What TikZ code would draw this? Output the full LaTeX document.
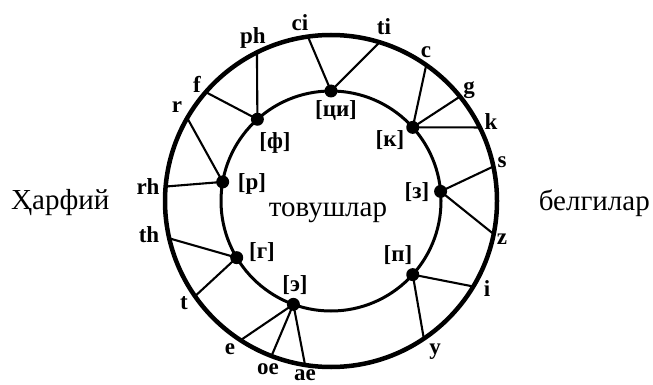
\documentclass[tikz,border=0pt]{standalone}
\usepackage{fontspec}
\setmainfont{Liberation Serif}
\usetikzlibrary{calc}
\begin{document}
\begin{tikzpicture}[x=1pt,y=-1pt,
  dot/.style={circle,fill=black,inner sep=0pt,minimum size=13pt},
  conn/.style={line width=2.1pt},
  lbl/.style={font=\bfseries\fontsize{23}{25}\selectfont,inner sep=0pt},
  word/.style={font=\fontsize{29}{32}\selectfont,inner sep=0pt}]
\useasboundingbox (0,0) rectangle (653,385);
\coordinate (C) at (331,201);
\draw[line width=4.5pt] (C) circle[radius=166pt];
\draw[line width=3pt] (C) circle[radius=110pt];
% sound dots
\node[dot] (dci) at ($(C)+(90:110pt)$) {};
\node[dot] (df)  at ($(C)+(132:110pt)$) {};
\node[dot] (dk)  at ($(C)+(42:110pt)$) {};
\node[dot] (dr)  at ($(C)+(170:110pt)$) {};
\node[dot] (dz)  at ($(C)+(5:110pt)$) {};
\node[dot] (dg)  at ($(C)+(211:110pt)$) {};
\node[dot] (dp)  at ($(C)+(318:110pt)$) {};
\node[dot] (de)  at ($(C)+(250:110pt)$) {};
% outer ends
\coordinate (oci) at ($(C)+(98:166pt)$);
\coordinate (oti) at ($(C)+(73:166pt)$);
\coordinate (oph) at ($(C)+(116.5:166pt)$);
\coordinate (of)  at ($(C)+(139:166pt)$);
\coordinate (or)  at ($(C)+(150:166pt)$);
\coordinate (orh) at ($(C)+(175:166pt)$);
\coordinate (oth) at ($(C)+(193:166pt)$);
\coordinate (ot)  at ($(C)+(215:166pt)$);
\coordinate (oe)  at ($(C)+(237:166pt)$);
\coordinate (ooe) at ($(C)+(249:166pt)$);
\coordinate (oae) at ($(C)+(261:166pt)$);
\coordinate (oy)  at ($(C)+(304:166pt)$);
\coordinate (oi)  at ($(C)+(329:166pt)$);
\coordinate (oz)  at ($(C)+(348.5:166pt)$);
\coordinate (os)  at ($(C)+(12:166pt)$);
\coordinate (ok)  at ($(C)+(26.3:166pt)$);
\coordinate (og)  at ($(C)+(39:166pt)$);
\coordinate (oc)  at ($(C)+(55:166pt)$);
% connectors
\draw[conn] (dci.center) -- (oci);
\draw[conn] (dci.center) -- (oti);
\draw[conn] (df.center) -- (oph);
\draw[conn] (df.center) -- (of);
\draw[conn] (dr.center) -- (or);
\draw[conn] (dr.center) -- (orh);
\draw[conn] (dg.center) -- (oth);
\draw[conn] (dg.center) -- (ot);
\draw[conn] (de.center) -- (oe);
\draw[conn] (de.center) -- (ooe);
\draw[conn] (de.center) -- (oae);
\draw[conn] (dp.center) -- (oy);
\draw[conn] (dp.center) -- (oi);
\draw[conn] (dz.center) -- (oz);
\draw[conn] (dz.center) -- (os);
\draw[conn] (dk.center) -- (ok);
\draw[conn] (dk.center) -- (og);
\draw[conn] (dk.center) -- (oc);
% outer labels
\node[lbl] (lci) at (300,23) {ci};
\node[lbl] (lti) at (384,27) {ti};
\node[lbl] (lc)  at (426,52) {c};
\node[lbl] (lg)  at (469,90) {g};
\node[lbl] (lk)  at (491,122) {k};
\node[lbl] (ls)  at (502,162) {s};
\node[lbl] (lz)  at (502,239) {z};
\node[lbl] (li)  at (487,289) {i};
\node[lbl] (ly)  at (435,352) {y};
\node[lbl] (lae) at (305,375) {ae};
\node[lbl] (loe) at (268,369) {oe};
\node[lbl] (le)  at (230,349) {e};
\node[lbl] (lt)  at (184,303) {t};
\node[lbl] (lth) at (149,235) {th};
\node[lbl] (lrh) at (148,187) {rh};
\node[lbl] (lr)  at (177,107) {r};
\node[lbl] (lf)  at (197,84) {f};
\node[lbl] (lph) at (253,38) {ph};
% inner labels
\node[lbl] (ici) at (336,111) {[ци]};
\node[lbl] (iph) at (275,143) {[ф]};
\node[lbl] (ik)  at (390,140) {[к]};
\node[lbl] (ir)  at (252,184) {[р]};
\node[lbl] (iz)  at (417,192) {[з]};
\node[lbl] (ig)  at (262,252) {[г]};
\node[lbl] (ip)  at (398,255) {[п]};
\node[lbl] (ie)  at (295,285) {[э]};
% words
\node[word,anchor=west] (w1) at (11,203) {Ҳарфий};
\node[word] (w2) at (328,213) {товушлар};
\node[word,anchor=east] (w3) at (650,203) {белгилар};
\end{tikzpicture}
\end{document}
